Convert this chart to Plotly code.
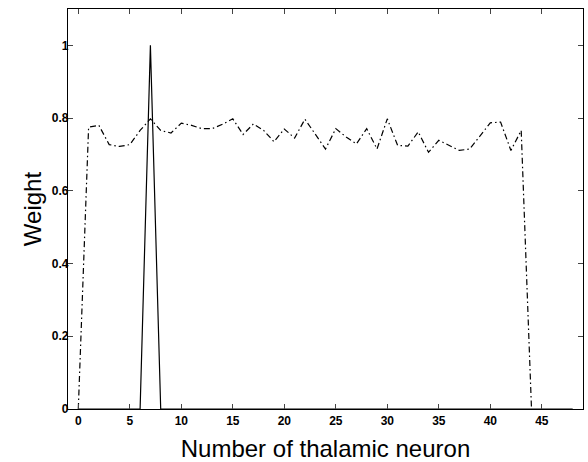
import plotly.graph_objects as go

# Dash-dot series: weights of neurons 0..44
neurons_dd = list(range(0, 45))
weights_dd = [0.0, 0.775, 0.78, 0.727, 0.722, 0.727, 0.766, 0.798, 0.766, 0.759,
              0.786, 0.78, 0.771, 0.771, 0.783, 0.798, 0.755, 0.784, 0.766, 0.735,
              0.77, 0.745, 0.797, 0.757, 0.715, 0.771, 0.748, 0.729, 0.771, 0.715,
              0.798, 0.725, 0.723, 0.762, 0.706, 0.739, 0.725, 0.711, 0.715, 0.752,
              0.787, 0.789, 0.711, 0.766, 0.0]

# Solid series: a single spike at neuron 7
neurons_solid = list(range(0, 49))
weights_solid = [1.0 if n == 7 else 0.0 for n in neurons_solid]

x_ticks = [0, 5, 10, 15, 20, 25, 30, 35, 40, 45]
y_ticks = [0, 0.2, 0.4, 0.6, 0.8, 1]
y_tick_text = ["0", "0.2", "0.4", "0.6", "0.8", "1"]

fig = go.Figure()
fig.add_trace(go.Scatter(x=neurons_solid, y=weights_solid, mode="lines",
                         line=dict(color="black", width=1.2), showlegend=False))
fig.add_trace(go.Scatter(x=neurons_dd, y=weights_dd, mode="lines",
                         line=dict(color="black", width=1.2, dash="6px,3px,1.5px,3px"),
                         showlegend=False))

font_family = "Arial, Liberation Sans, Helvetica, sans-serif"
fig.update_layout(
    width=588, height=462,
    margin=dict(l=68, r=5, t=9, b=53),
    paper_bgcolor="white", plot_bgcolor="white",
    font=dict(family=font_family, color="black"),
)
fig.update_xaxes(
    range=[-1, 49], tickvals=x_ticks, ticks="inside", ticklen=5,
    showline=True, linecolor="black", linewidth=1.2, mirror="ticks",
    showgrid=False, zeroline=False, tickfont=dict(size=12, weight="bold"),
    title=dict(text="Number of thalamic neuron", font=dict(size=24), standoff=13),
)
fig.update_yaxes(
    range=[0, 1.1], tickvals=y_ticks, ticktext=y_tick_text, ticks="inside", ticklen=5,
    showline=True, linecolor="black", linewidth=1.2, mirror="ticks",
    showgrid=False, zeroline=False, tickfont=dict(size=12, weight="bold"),
    ticklabelstandoff=-4,
    title=dict(text="Weight", font=dict(size=24), standoff=3),
)

fig.write_html("out.html")
